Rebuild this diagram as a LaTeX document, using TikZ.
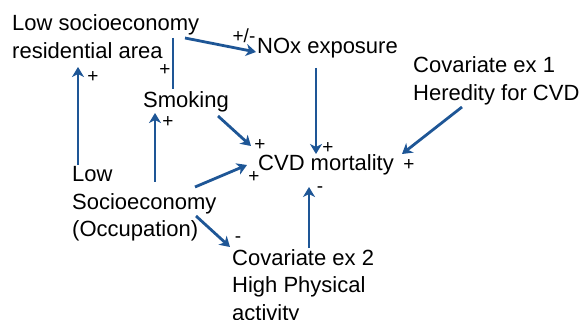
\documentclass[tikz,border=0pt]{standalone}
\usepackage{fontspec}
\setmainfont{Liberation Sans}
\usetikzlibrary{arrows.meta}
\definecolor{arrblue}{RGB}{30,86,150}
\newcommand\mltext[1]{\begin{tabular}[t]{@{}l@{}}#1\end{tabular}}
\tikzset{
  lbl/.style={font=\fontsize{22}{27.5}\selectfont, inner sep=0pt, anchor=base west},
  sgn/.style={font=\fontsize{19}{20}\selectfont, inner sep=0pt},
  arr/.style={draw=arrblue, line width=2.8pt, -{Stealth[length=10pt,width=12pt,inset=3pt]}},
  plain/.style={draw=arrblue, line width=2.8pt},
}
\begin{document}
\begin{tikzpicture}[x=1pt,y=-1pt]
\useasboundingbox (0,0) rectangle (580,320);
\renewcommand\arraystretch{1}
% text nodes
\node[lbl] (res) at (12,31) {\fontsize{22}{27.5}\selectfont\mltext{Low socioeconomy\\residential area}};
\node[lbl] (nox) at (257,54) {NOx exposure};
\node[lbl] (smk) at (143,108) {Smoking};
\node[lbl] (cvd) at (258,171) {CVD mortality};
\node[lbl] (cov1) at (413,73) {\fontsize{22}{27.5}\selectfont\mltext{Covariate ex 1\\Heredity for CVD}};
\node[lbl] (lsc) at (72,182) {\fontsize{22}{27.5}\selectfont\mltext{Low\\Socioeconomy\\(Occupation)}};
\node[lbl] (cov2) at (232,265) {\fontsize{22}{27.5}\selectfont\mltext{Covariate ex 2\\High Physical\\activity}};
% connector end points
\coordinate (a1s) at (78,165);  \coordinate (a1e) at (78,67);
\coordinate (a2s) at (155,182); \coordinate (a2e) at (155,113);
\coordinate (a3s) at (173,38);  \coordinate (a3e) at (173,89);
\coordinate (a4s) at (185,38);  \coordinate (a4e) at (256,52);
\coordinate (a5s) at (316,68);  \coordinate (a5e) at (316,154);
\coordinate (a6s) at (218,116); \coordinate (a6e) at (251,146);
\coordinate (a7s) at (195,187); \coordinate (a7e) at (247,165);
\coordinate (a8s) at (462,107); \coordinate (a8e) at (402,154);
\coordinate (a9s) at (309,248); \coordinate (a9e) at (309,187);
\coordinate (a10s) at (196,216); \coordinate (a10e) at (230,247);
% connectors
\draw[arr] (a1s) -- (a1e);
\draw[arr] (a2s) -- (a2e);
\draw[plain] (a3s) -- (a3e);
\draw[arr] (a4s) -- (a4e);
\draw[arr] (a5s) -- (a5e);
\draw[arr] (a6s) -- (a6e);
\draw[arr] (a7s) -- (a7e);
\draw[arr] (a8s) -- (a8e);
\draw[arr] (a9s) -- (a9e);
\draw[arr] (a10s) -- (a10e);
% signs
\node[sgn] (s1) at (93,77) {+};
\node[sgn] (s2) at (168,122) {+};
\node[sgn] (s3) at (165,70) {+};
\node[sgn] (s4) at (244,36) {+/-};
\node[sgn] (s5) at (328,148) {+};
\node[sgn] (s6) at (260,145) {+};
\node[sgn] (s7) at (254,177) {+};
\node[sgn] (s8) at (409,165) {+};
\node[sgn] (s9) at (320,190) {-};
\node[sgn] (s10) at (238,240) {-};
\end{tikzpicture}
\end{document}
